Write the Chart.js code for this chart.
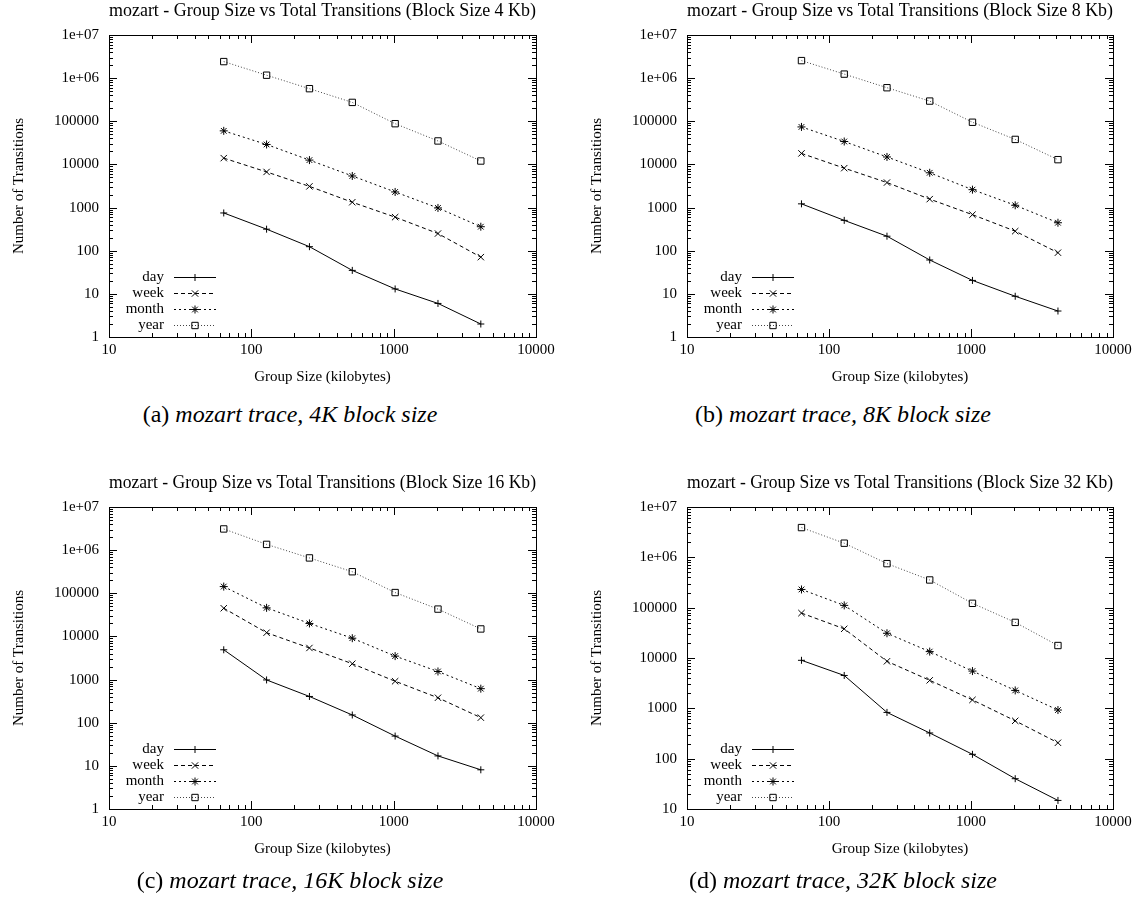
<!DOCTYPE html>
<html>
<head>
<meta charset="utf-8">
<script src="https://cdn.jsdelivr.net/npm/chart.js@4.4.1/dist/chart.umd.min.js"></script>
<style>
  body { margin: 0; background: #fff; font-family: "Liberation Serif", serif; }
  #page { position: relative; width: 1141px; height: 920px; overflow: hidden; }
  canvas { position: absolute; }
  .caption { position: absolute; width: 580px; text-align: center; font-size: 24px; line-height: 28px; color: #000; }
</style>
</head>
<body>
<div id="page">
  <canvas id="c4" width="570" height="400" style="left:0;top:0"></canvas>
  <canvas id="c8" width="571" height="400" style="left:570px;top:0"></canvas>
  <canvas id="c16" width="570" height="400" style="left:0;top:472px"></canvas>
  <canvas id="c32" width="571" height="400" style="left:570px;top:472px"></canvas>
  <div class="caption" style="left:0;top:400px">(a) <i>mozart trace, 4K block size</i></div>
  <div class="caption" style="left:553px;top:400px">(b) <i>mozart trace, 8K block size</i></div>
  <div class="caption" style="left:0;top:866px">(c) <i>mozart trace, 16K block size</i></div>
  <div class="caption" style="left:553px;top:866px">(d) <i>mozart trace, 32K block size</i></div>
</div>
<script>
// group sizes (kilobytes) on the x axis
const groupSizes = [64, 128, 256, 512, 1024, 2048, 4096];
const seriesNames = ['day', 'week', 'month', 'year'];

// tick labels
const xMajor = [10, 100, 1000, 10000];
const xTickLabels = ['10', '100', '1000', '10000'];
const yMajor = [1, 10, 100, 1000, 10000, 100000, 1e6, 1e7];
const yTickLabels = ['1', '10', '100', '1000', '10000', '100000', '1e+06', '1e+07'];

// block size 4 Kb
const day4 = [750, 316, 124, 35, 13, 6, 2];
const week4 = [14000, 6700, 3100, 1330, 600, 250, 71];
const month4 = [60000, 29000, 12600, 5400, 2300, 980, 360];
const year4 = [2420000, 1170000, 570000, 274000, 88000, 35000, 12000];

// block size 8 Kb
const day8 = [1220, 505, 217, 61, 20.5, 8.8, 4];
const week8 = [18000, 8200, 3800, 1570, 685, 284, 90];
const month8 = [74000, 34000, 14900, 6400, 2600, 1130, 445];
const year8 = [2550000, 1240000, 600000, 294000, 95000, 38000, 12900];

// block size 16 Kb
const day16 = [4900, 980, 406, 151, 49, 17, 8.1];
const week16 = [45000, 12200, 5400, 2330, 915, 379, 131];
const month16 = [143000, 46000, 20000, 9100, 3500, 1540, 615];
const year16 = [3100000, 1360000, 660000, 316000, 104000, 43000, 14900];

// block size 32 Kb
const day32 = [9000, 4500, 830, 324, 122, 40, 14.8];
const week32 = [78000, 38000, 8600, 3600, 1470, 565, 207];
const month32 = [230000, 111000, 31000, 13400, 5500, 2270, 925];
const year32 = [3900000, 1910000, 750000, 355000, 122000, 51000, 17700];

// line / marker styles per series
const lineColors = ['#000', '#000', '#000', '#444'];
const lineDashes = [[], [4, 3], [2, 3], [1, 2]];
const markers = ['cross', 'crossRot', 'star', 'rect'];
const markerSizes = [3.5, 4.5, 4, 4.5];

Chart.defaults.font.family = '"Liberation Serif", serif';
Chart.defaults.font.size = 15;
Chart.defaults.color = '#000';

function drawMarker(ctx, style, r, x, y) {
  if (Chart.helpers && Chart.helpers.drawPoint) {
    Chart.helpers.drawPoint(ctx, { pointStyle: style, radius: r, rotation: 0, borderWidth: 1 }, x, y);
  }
}

// gnuplot-like frame with inward major/minor ticks on all four sides
const frameTicks = {
  id: 'frameTicks',
  afterDatasetsDraw(chart) {
    const { ctx, chartArea: a, scales: { x, y } } = chart;
    ctx.save();
    ctx.strokeStyle = '#000';
    ctx.lineWidth = 1;
    ctx.setLineDash([]);
    ctx.strokeRect(Math.round(a.left) + 0.5, Math.round(a.top) + 0.5,
      Math.round(a.right - a.left), Math.round(a.bottom - a.top));
    const seg = (x1, y1, x2, y2) => { ctx.beginPath(); ctx.moveTo(x1, y1); ctx.lineTo(x2, y2); ctx.stroke(); };
    const logTicks = (scale, cb) => {
      for (let d = scale.min; d < scale.max * 1.001; d *= 10) {
        for (let m = 1; m < 10; m++) {
          const v = d * m;
          if (v > scale.max * 1.001) break;
          cb(Math.round(scale.getPixelForValue(v)) + 0.5, m === 1 ? 8 : 4);
        }
      }
    };
    logTicks(x, (p, len) => { seg(p, a.bottom, p, a.bottom - len); seg(p, a.top, p, a.top + len); });
    logTicks(y, (p, len) => { seg(a.left, p, a.left + len, p); seg(a.right, p, a.right - len, p); });
    ctx.restore();
  }
};

// legend inside the plot, lower left, label text left of the line sample
const innerLegend = {
  id: 'innerLegend',
  afterDatasetsDraw(chart) {
    const { ctx, chartArea: a } = chart;
    const sets = chart.data.datasets;
    ctx.save();
    ctx.font = '15px "Liberation Serif", serif';
    ctx.textAlign = 'right';
    ctx.textBaseline = 'middle';
    sets.forEach((ds, i) => {
      const yy = Math.round(a.bottom - 12 - (sets.length - 1 - i) * 16) + 0.5;
      ctx.fillStyle = '#000';
      ctx.fillText(ds.label, a.left + 55, yy);
      ctx.strokeStyle = ds.borderColor;
      ctx.lineWidth = 1;
      ctx.setLineDash(ds.borderDash);
      ctx.beginPath();
      ctx.moveTo(a.left + 65, yy);
      ctx.lineTo(a.left + 107, yy);
      ctx.stroke();
      ctx.setLineDash([]);
      ctx.strokeStyle = '#000';
      ctx.fillStyle = 'rgba(0,0,0,0)';
      drawMarker(ctx, ds.pointStyle, ds.pointRadius, a.left + 86, yy);
    });
    ctx.restore();
  }
};

function makeDatasets(day, week, month, year) {
  return [day, week, month, year].map((vals, i) => ({
    label: seriesNames[i],
    data: groupSizes.map((g, j) => ({ x: g, y: vals[j] })),
    borderColor: lineColors[i],
    borderWidth: 1,
    borderDash: lineDashes[i],
    pointStyle: markers[i],
    pointRadius: markerSizes[i],
    pointBorderColor: '#000',
    pointBackgroundColor: 'rgba(0,0,0,0)',
    pointBorderWidth: 1,
    tension: 0,
    fill: false
  }));
}

function makeChart(id, blockSize, yMin, sets, yAxisWidth, rightPad) {
  new Chart(document.getElementById(id), {
    type: 'line',
    data: { datasets: sets },
    plugins: [frameTicks, innerLegend],
    options: {
      responsive: false,
      animation: false,
      layout: { padding: { left: 0, right: rightPad, top: 0, bottom: 13 } },
      plugins: {
        legend: { display: false },
        tooltip: { enabled: false },
        title: {
          display: true,
          fullSize: false,
          text: `mozart - Group Size vs Total Transitions (Block Size ${blockSize} Kb)`,
          font: { size: 18, weight: 'normal' },
          padding: { top: 0, bottom: 13.4 }
        }
      },
      scales: {
        x: {
          type: 'logarithmic',
          min: 10,
          max: 10000,
          grid: { display: false, drawTicks: false },
          border: { display: false },
          afterBuildTicks: s => { s.ticks = xMajor.map(v => ({ value: v })); },
          afterFit: s => { s.height = 50; },
          ticks: {
            autoSkip: false,
            maxRotation: 0,
            padding: 4,
            callback: v => xTickLabels[xMajor.indexOf(v)] ?? ''
          },
          title: { display: true, text: 'Group Size (kilobytes)', padding: { top: 0, bottom: 1 } }
        },
        y: {
          type: 'logarithmic',
          min: yMin,
          max: 1e7,
          grid: { display: false, drawTicks: false },
          border: { display: false },
          afterBuildTicks: s => { s.ticks = yMajor.filter(v => v >= yMin).map(v => ({ value: v })); },
          afterFit: s => { s.width = yAxisWidth; },
          ticks: {
            autoSkip: false,
            padding: 10,
            callback: v => yTickLabels[yMajor.indexOf(v)] ?? ''
          },
          title: { display: true, text: 'Number of Transitions', padding: { top: yAxisWidth - 99, bottom: 0 } }
        }
      }
    }
  });
}

makeChart('c4', '4', 1, makeDatasets(day4, week4, month4, year4), 109, 34);
makeChart('c8', '8', 1, makeDatasets(day8, week8, month8, year8), 117, 28);
makeChart('c16', '16', 1, makeDatasets(day16, week16, month16, year16), 109, 34);
makeChart('c32', '32', 10, makeDatasets(day32, week32, month32, year32), 117, 28);
</script>
</body>
</html>
